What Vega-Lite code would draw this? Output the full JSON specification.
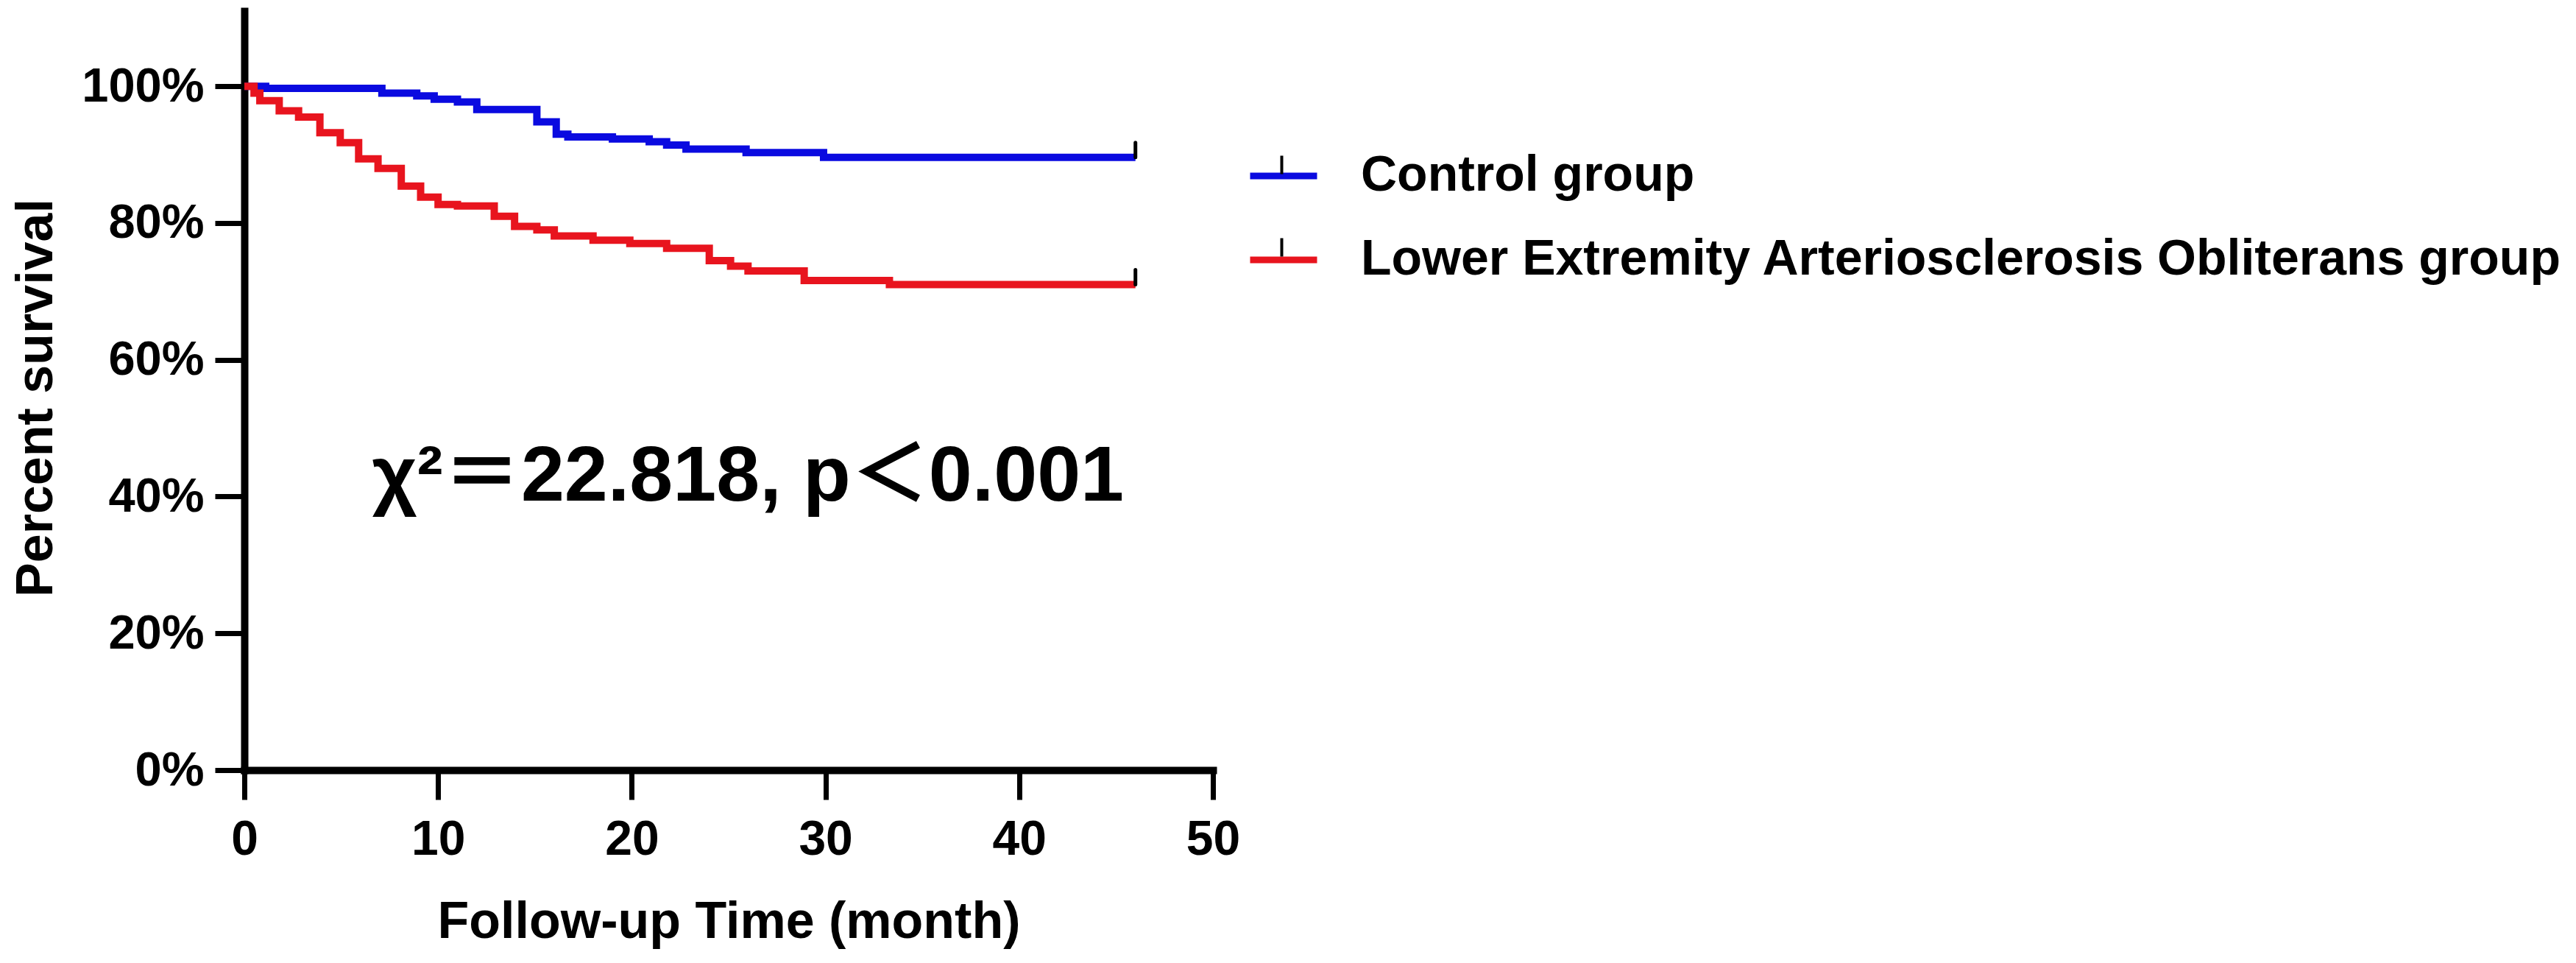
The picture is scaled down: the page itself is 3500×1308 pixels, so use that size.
{
  "$schema": "https://vega.github.io/schema/vega-lite/v6.json",
  "description": "Kaplan-Meier survival curves, control vs LEAO group.",
  "width": 1316,
  "height": 1031,
  "autosize": {"type": "none"},
  "padding": {"left": 332, "top": 15, "right": 1852, "bottom": 262},
  "background": "white",
  "datasets": {
    "curves": [
      {"group": "Control group", "t": 0, "s": 100},
      {"group": "Control group", "t": 1.1, "s": 99.7},
      {"group": "Control group", "t": 7.1, "s": 99.0},
      {"group": "Control group", "t": 8.9, "s": 98.6},
      {"group": "Control group", "t": 9.8, "s": 98.1},
      {"group": "Control group", "t": 11.0, "s": 97.7},
      {"group": "Control group", "t": 12.0, "s": 96.6},
      {"group": "Control group", "t": 15.1, "s": 94.8},
      {"group": "Control group", "t": 16.1, "s": 93.0},
      {"group": "Control group", "t": 16.7, "s": 92.6},
      {"group": "Control group", "t": 19.0, "s": 92.3},
      {"group": "Control group", "t": 20.9, "s": 91.9},
      {"group": "Control group", "t": 21.8, "s": 91.4},
      {"group": "Control group", "t": 22.8, "s": 90.8},
      {"group": "Control group", "t": 25.9, "s": 90.3},
      {"group": "Control group", "t": 29.9, "s": 89.6},
      {"group": "Control group", "t": 46, "s": 89.6},
      {"group": "Lower Extremity Arteriosclerosis Obliterans group", "t": 0, "s": 100},
      {"group": "Lower Extremity Arteriosclerosis Obliterans group", "t": 0.5, "s": 99.0},
      {"group": "Lower Extremity Arteriosclerosis Obliterans group", "t": 0.8, "s": 97.9},
      {"group": "Lower Extremity Arteriosclerosis Obliterans group", "t": 1.8, "s": 96.4},
      {"group": "Lower Extremity Arteriosclerosis Obliterans group", "t": 2.8, "s": 95.5},
      {"group": "Lower Extremity Arteriosclerosis Obliterans group", "t": 3.9, "s": 93.2},
      {"group": "Lower Extremity Arteriosclerosis Obliterans group", "t": 4.95, "s": 91.75},
      {"group": "Lower Extremity Arteriosclerosis Obliterans group", "t": 5.9, "s": 89.4},
      {"group": "Lower Extremity Arteriosclerosis Obliterans group", "t": 6.9, "s": 88.0},
      {"group": "Lower Extremity Arteriosclerosis Obliterans group", "t": 8.1, "s": 85.4},
      {"group": "Lower Extremity Arteriosclerosis Obliterans group", "t": 9.1, "s": 83.8},
      {"group": "Lower Extremity Arteriosclerosis Obliterans group", "t": 10.0, "s": 82.7},
      {"group": "Lower Extremity Arteriosclerosis Obliterans group", "t": 11.0, "s": 82.5},
      {"group": "Lower Extremity Arteriosclerosis Obliterans group", "t": 12.9, "s": 81.0},
      {"group": "Lower Extremity Arteriosclerosis Obliterans group", "t": 13.95, "s": 79.5},
      {"group": "Lower Extremity Arteriosclerosis Obliterans group", "t": 15.1, "s": 79.0},
      {"group": "Lower Extremity Arteriosclerosis Obliterans group", "t": 16.0, "s": 78.1},
      {"group": "Lower Extremity Arteriosclerosis Obliterans group", "t": 18.0, "s": 77.5},
      {"group": "Lower Extremity Arteriosclerosis Obliterans group", "t": 19.9, "s": 77.0},
      {"group": "Lower Extremity Arteriosclerosis Obliterans group", "t": 21.8, "s": 76.3},
      {"group": "Lower Extremity Arteriosclerosis Obliterans group", "t": 24.0, "s": 74.5},
      {"group": "Lower Extremity Arteriosclerosis Obliterans group", "t": 25.1, "s": 73.7},
      {"group": "Lower Extremity Arteriosclerosis Obliterans group", "t": 26.0, "s": 73.0},
      {"group": "Lower Extremity Arteriosclerosis Obliterans group", "t": 28.9, "s": 71.6},
      {"group": "Lower Extremity Arteriosclerosis Obliterans group", "t": 33.3, "s": 71.0},
      {"group": "Lower Extremity Arteriosclerosis Obliterans group", "t": 46, "s": 71.0}
    ],
    "censored": [
      {"series": "Control group (censored)", "t": 46, "s": 89.6},
      {"series": "Lower Extremity Arteriosclerosis Obliterans group (censored)", "t": 46, "s": 71.0}
    ],
    "stats": [
      {"label": "χ²＝22.818, p＜0.001", "t": 26, "s": 39.4}
    ]
  },
  "layer": [
    {
      "data": {"name": "curves"},
      "mark": {"type": "line", "interpolate": "step-after", "strokeWidth": 10, "strokeCap": "butt"},
      "encoding": {
        "x": {
          "field": "t", "type": "quantitative",
          "scale": {"domain": [0, 50], "nice": false, "zero": false},
          "axis": {
            "values": [0, 10, 20, 30, 40, 50],
            "title": "Follow-up Time (month)",
            "titleFontSize": 70,
            "titleY": 227,
            "titleBaseline": "alphabetic",
            "labelFontSize": 66,
            "labelPadding": 22,
            "labelFlush": false
          }
        },
        "y": {
          "field": "s", "type": "quantitative",
          "scale": {"domain": [0, 111], "nice": false},
          "axis": {
            "values": [0, 20, 40, 60, 80, 100],
            "labelExpr": "datum.value + '%'",
            "title": "Percent survival",
            "titleFontSize": 70,
            "titleX": -262,
            "titleY": 525,
            "titleAngle": 270,
            "titleAlign": "center",
            "titleBaseline": "alphabetic",
            "labelFontSize": 65,
            "labelPadding": 15
          }
        },
        "color": {
          "field": "group", "type": "nominal",
          "scale": {
            "domain": ["Control group", "Lower Extremity Arteriosclerosis Obliterans group"],
            "range": ["#0a0ae0", "#e8141e"]
          },
          "legend": {
            "title": null,
            "orient": "none",
            "legendX": 1362,
            "legendY": 174,
            "symbolType": "stroke",
            "symbolSize": 8281,
            "symbolStrokeWidth": 9,
            "labelFontSize": 68,
            "labelOffset": 55,
            "rowPadding": 30
          }
        }
      }
    },
    {
      "data": {"name": "censored"},
      "mark": {"type": "point", "filled": false, "color": "black", "strokeWidth": 5, "strokeCap": "round", "size": 5289, "opacity": 1},
      "encoding": {
        "x": {"field": "t", "type": "quantitative"},
        "y": {"field": "s", "type": "quantitative"},
        "shape": {
          "field": "series", "type": "nominal",
          "scale": {
            "domain": ["Control group (censored)", "Lower Extremity Arteriosclerosis Obliterans group (censored)"],
            "range": ["M0,0V-0.55", "M0,0V-0.55"]
          },
          "legend": {
            "title": null,
            "orient": "none",
            "legendX": 1362,
            "legendY": 174,
            "symbolSize": 8281,
            "symbolStrokeWidth": 4,
            "symbolStrokeColor": "black",
            "symbolFillColor": "transparent",
            "labelFontSize": 68,
            "labelOffset": 55,
            "labelExpr": "''",
            "rowPadding": 30
          }
        }
      }
    },
    {
      "data": {"name": "stats"},
      "mark": {"type": "text", "font": "Liberation Sans, Noto Sans CJK SC", "fontSize": 106, "fontWeight": "bold", "align": "center", "baseline": "alphabetic", "color": "black"},
      "encoding": {
        "x": {"field": "t", "type": "quantitative"},
        "y": {"field": "s", "type": "quantitative"},
        "text": {"field": "label"}
      }
    }
  ],
  "config": {
    "font": "Liberation Sans",
    "view": {"stroke": null},
    "axis": {
      "grid": false,
      "domainColor": "black",
      "domainWidth": 10,
      "domainCap": "square",
      "tickColor": "black",
      "tickWidth": 7,
      "tickSize": 40,
      "labelColor": "black",
      "labelFontWeight": "bold",
      "titleColor": "black",
      "titleFontWeight": "bold"
    },
    "legend": {
      "labelColor": "black",
      "labelFontWeight": "bold",
      "labelLimit": 3000,
      "padding": 0
    }
  }
}
